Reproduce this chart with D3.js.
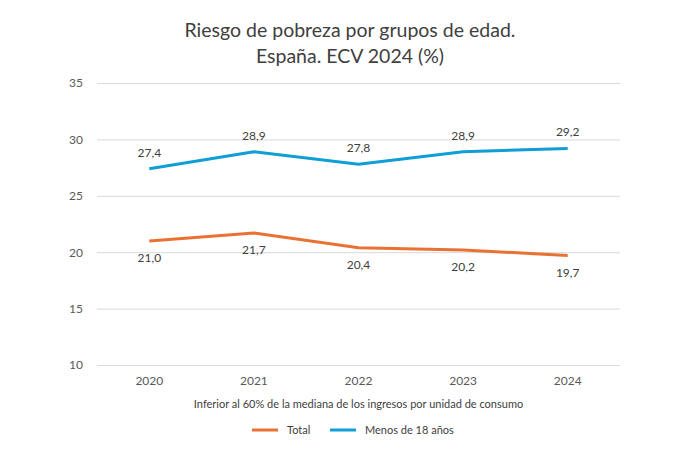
<!DOCTYPE html>
<html>
<head>
<meta charset="utf-8">
<script src="https://cdn.jsdelivr.net/npm/d3@7"></script>
<style>
  body { margin: 0; background: #fff; overflow: hidden; }
  svg { display: block; }
  svg text { font-family: Lato, "Liberation Sans", sans-serif; }
</style>
</head>
<body>
<svg id="chart"></svg>
<script>
const width = 700;
const height = 450;

// Data
const years = ["2020", "2021", "2022", "2023", "2024"];
const totalValues = [21.0, 21.7, 20.4, 20.2, 19.7];
const menoresValues = [27.4, 28.9, 27.8, 28.9, 29.2];
const yTicks = [10, 15, 20, 25, 30, 35];
const titleLines = ["Riesgo de pobreza por grupos de edad.", "España. ECV 2024 (%)"];
const xAxisTitle = "Inferior al 60% de la mediana de los ingresos por unidad de consumo";
const seriesNames = ["Total", "Menos de 18 años"];
const colors = ["#E97132", "#0F9ED5"];

const svg = d3.select("#chart")
  .attr("width", width)
  .attr("height", height);

const margin = { top: 83, right: 80, bottom: 85, left: 97 };
const innerWidth = width - margin.left - margin.right;
const innerHeight = height - margin.top - margin.bottom;

const xScale = d3.scaleBand()
  .domain(years)
  .range([0, innerWidth]);

const yScale = d3.scaleLinear()
  .domain([10, 35])
  .range([innerHeight, 0]);

const g = svg.append("g")
  .attr("transform", `translate(${margin.left},${margin.top})`);

// Title
svg.append("g").selectAll("text")
  .data(titleLines)
  .enter()
  .append("text")
  .attr("x", 350)
  .attr("y", (d, i) => 37 + i * 26)
  .attr("text-anchor", "middle")
  .attr("fill", "#404040")
  .style("font-size", "19.5px")
  .text(d => d);

// Y axis with gridlines
const yAxisG = g.append("g")
  .call(d3.axisLeft(yScale).tickValues(yTicks).tickSize(-innerWidth).tickPadding(14));
yAxisG.select(".domain").remove();
yAxisG.selectAll("line").attr("stroke", "#d9d9d9").attr("stroke-width", 1);
yAxisG.selectAll("text").attr("fill", "#595959").style("font-size", "12px");

// X axis
const xAxisG = g.append("g")
  .attr("transform", `translate(0,${innerHeight})`)
  .call(d3.axisBottom(xScale).tickSize(0).tickPadding(11));
xAxisG.select(".domain").remove();
xAxisG.selectAll("text").attr("fill", "#595959").style("font-size", "12px");

// Axis title
g.append("text")
  .attr("x", innerWidth / 2)
  .attr("y", innerHeight + 43)
  .attr("text-anchor", "middle")
  .attr("fill", "#404040")
  .style("font-size", "11px")
  .text(xAxisTitle);

const xPos = d => xScale(d) + xScale.bandwidth() / 2;
const lineGenerator = d3.line()
  .x((d, i) => xPos(years[i]))
  .y(d => yScale(d));

const series = [totalValues, menoresValues];

series.forEach((values, si) => {
  g.append("path")
    .datum(values)
    .attr("fill", "none")
    .attr("stroke", colors[si])
    .attr("stroke-width", 3)
    .attr("stroke-linejoin", "round")
    .attr("d", lineGenerator);

  // labels: blue above, orange below
  g.selectAll(".label-" + si)
    .data(values)
    .enter()
    .append("text")
    .attr("class", "label-" + si)
    .attr("x", (d, i) => xPos(years[i]))
    .attr("y", d => si === 1 ? yScale(d) - 12 : yScale(d) + 21)
    .attr("text-anchor", "middle")
    .attr("fill", "#404040")
    .style("font-size", "12px")
    .text(d => d.toFixed(1).replace(".", ","));
});

// Legend
const legend = svg.append("g").attr("transform", "translate(252, 430)");
const legendX = [0, 78];
seriesNames.forEach((name, i) => {
  legend.append("line")
    .attr("x1", legendX[i])
    .attr("x2", legendX[i] + 26)
    .attr("stroke", colors[i])
    .attr("stroke-width", 3);
  legend.append("text")
    .attr("x", legendX[i] + 35)
    .attr("y", 4)
    .attr("fill", "#404040")
    .style("font-size", "11px")
    .text(name);
});
</script>
</body>
</html>
